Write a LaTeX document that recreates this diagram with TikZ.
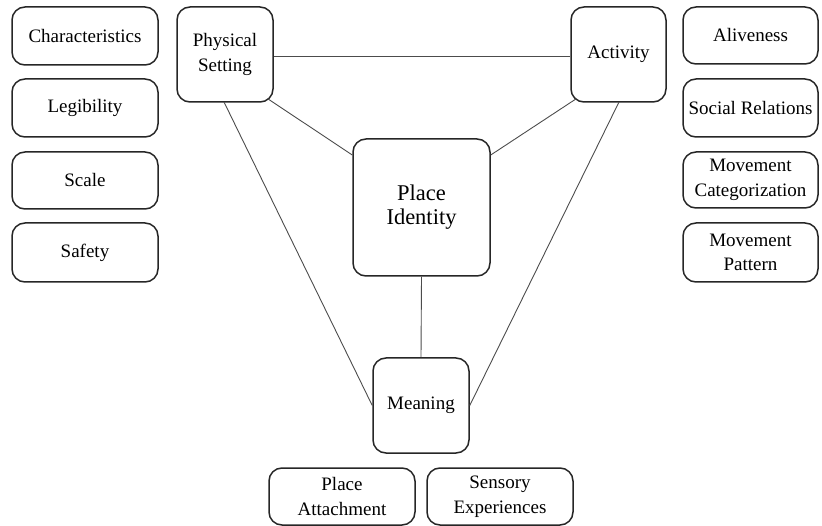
\documentclass[tikz,border=0pt]{standalone}
\usepackage{fontspec}
\setmainfont{Liberation Serif}
\begin{document}
\begin{tikzpicture}[x=1pt,y=-1pt,
  box/.style={draw=black!85,line width=1.5pt,rounded corners=13pt,align=center,
    inner sep=0pt,font=\rmfamily\fontsize{19}{24.5}\selectfont},
  link/.style={draw=black!70,line width=0.9pt}]
\useasboundingbox (0,0) rectangle (822,526);
% left column
\node[box,minimum width=146pt,minimum height=58pt] (char) at (85,36) {Characteristics};
\node[box,minimum width=146pt,minimum height=58pt] (leg) at (85,108) {Legibility};
\node[box,minimum width=146pt,minimum height=57pt] (scale) at (85,180.5) {Scale};
\node[box,minimum width=146pt,minimum height=59pt] (safe) at (85,252.5) {Safety};
% right column
\node[box,minimum width=135pt,minimum height=57pt] (alive) at (750.5,35.5) {Aliveness};
\node[box,minimum width=135pt,minimum height=58pt] (soc) at (750.5,108) {Social Relations};
\node[box,minimum width=135pt,minimum height=56pt] (movc) at (750.5,180) {Movement\\Categorization};
\node[box,minimum width=135pt,minimum height=59pt] (movp) at (750.5,252.5) {Movement\\Pattern};
% main nodes
\node[box,minimum width=96pt,minimum height=95pt] (phys) at (225,54.5) {Physical\\Setting};
\node[box,minimum width=95pt,minimum height=95pt] (act) at (618.5,54.5) {Activity};
\node[box,minimum width=137pt,minimum height=137pt,font=\rmfamily\fontsize{22.5}{24}\selectfont] (pi) at (421.5,207.5) {Place\\Identity};
\node[box,minimum width=96pt,minimum height=95pt] (mean) at (421,405.5) {Meaning};
% bottom
\node[box,minimum width=146pt,minimum height=57pt] (patt) at (342,496.5) {Place\\Attachment};
\node[box,minimum width=146pt,minimum height=57pt] (sens) at (500,496.5) {Sensory\\Experiences};
% connectors
\draw[link] (phys.east |- 0,56) -- (act.west |- 0,56);
\draw[link] (phys.south east) ++(-6,-4) coordinate (pse) -- (pi.west |- 0,155);
\draw[link] (act.south west) ++(6,-4) coordinate (asw) -- (pi.east |- 0,155);
\draw[link] (224,102) coordinate (pb) -- (mean.west);
\draw[link] (619,102) coordinate (ab) -- (mean.east);
\draw[link] (pi.south) -- (mean.north);
\end{tikzpicture}
\end{document}
